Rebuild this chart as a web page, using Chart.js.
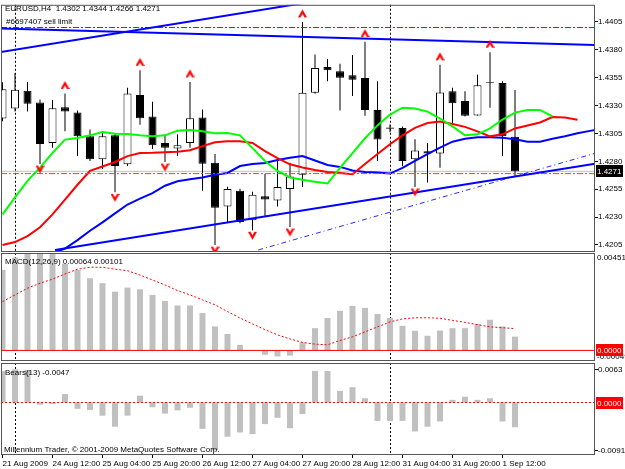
<!DOCTYPE html>
<html>
<head>
<meta charset="utf-8">
<script src="https://cdn.jsdelivr.net/npm/chart.js@4.4.1/dist/chart.umd.min.js"></script>
<style>
  html, body { margin: 0; padding: 0; background: #fff; }
  #wrap { position: relative; width: 625px; height: 469px; overflow: hidden; }
  #wrap canvas { position: absolute; left: 0; top: 0; }
</style>
</head>
<body>
<div id="wrap">
  <canvas id="mainChart" width="625" height="469"></canvas>
  <canvas id="macdChart" width="625" height="469"></canvas>
  <canvas id="bearsChart" width="625" height="469"></canvas>
</div>
<script>
// EURUSD H4, 21 Aug 20:00 .. 1 Sep 16:00
const openP  = [1.43184, 1.43273, 1.43432, 1.43328, 1.42965, 1.43284, 1.43237, 1.43024, 1.42818, 1.43033, 1.42773, 1.43394, 1.43202, 1.42965, 1.42915, 1.42965, 1.43193, 1.42788, 1.42395, 1.42537, 1.42271, 1.42486, 1.42448, 1.42552, 1.42679, 1.43414, 1.43645, 1.43607, 1.43571, 1.43547, 1.43261, 1.43104, 1.43098, 1.42818, 1.42891, 1.42871, 1.43429, 1.43341, 1.43211, 1.43509, 1.43503, 1.4302];
const highP  = [1.4351, 1.43592, 1.43512, 1.43355, 1.4335, 1.43408, 1.43255, 1.43086, 1.43069, 1.43051, 1.43459, 1.43616, 1.43335, 1.43042, 1.43042, 1.43512, 1.43264, 1.42865, 1.42572, 1.42554, 1.42528, 1.42687, 1.42832, 1.42788, 1.4405, 1.43757, 1.43718, 1.43674, 1.43754, 1.43873, 1.43518, 1.43131, 1.43113, 1.42998, 1.42965, 1.43665, 1.43459, 1.43429, 1.43577, 1.43778, 1.43518, 1.4344];
const lowP   = [1.4316, 1.43246, 1.43246, 1.42776, 1.42921, 1.43069, 1.42847, 1.42803, 1.42732, 1.42522, 1.42758, 1.43128, 1.4291, 1.42794, 1.42847, 1.42921, 1.42537, 1.42049, 1.42256, 1.42244, 1.42182, 1.423, 1.42395, 1.42211, 1.4257, 1.43405, 1.43518, 1.43255, 1.43385, 1.43208, 1.42803, 1.4306, 1.42758, 1.4257, 1.4261, 1.42743, 1.43142, 1.43202, 1.4321, 1.43281, 1.42847, 1.4266];
const closeP = [1.43447, 1.43441, 1.43317, 1.42956, 1.43275, 1.43246, 1.43024, 1.42818, 1.43024, 1.42758, 1.43408, 1.43187, 1.42945, 1.42921, 1.42945, 1.43187, 1.42779, 1.42383, 1.42552, 1.42256, 1.42501, 1.42457, 1.4257, 1.42663, 1.43414, 1.43636, 1.43616, 1.4355, 1.43532, 1.43261, 1.42995, 1.43091, 1.42803, 1.42898, 1.42871, 1.43417, 1.4332, 1.43208, 1.43483, 1.43503, 1.43024, 1.4271];

// Alligator, values already shifted forward (index = bar where drawn)
const jawLine   = [1.41633, 1.41721, 1.4181, 1.41899, 1.41978, 1.42018, 1.42094, 1.42178, 1.42253, 1.42333, 1.42413, 1.42466, 1.42515, 1.42581, 1.42621, 1.42639, 1.42656, 1.42679, 1.42696, 1.42758, 1.42776, 1.42785, 1.42812, 1.42832, 1.42847, 1.42807, 1.42767, 1.4275, 1.42718, 1.42705, 1.42699, 1.4269, 1.42741, 1.42803, 1.42865, 1.42922, 1.42976, 1.43002, 1.43015, 1.43015, 1.43011, 1.42998, 1.42976, 1.42976, 1.43002, 1.43024, 1.43051, 1.43073, 1.43095, 1.43117];
const teethLine = [1.42049, 1.42076, 1.42129, 1.42209, 1.42324, 1.42457, 1.4259, 1.42714, 1.42754, 1.42794, 1.42847, 1.42874, 1.42876, 1.42882, 1.42885, 1.429, 1.42936, 1.42971, 1.4298, 1.4298, 1.42965, 1.42891, 1.42829, 1.42773, 1.42745, 1.42723, 1.42705, 1.42696, 1.42685, 1.42776, 1.42865, 1.42953, 1.43033, 1.431, 1.43144, 1.43157, 1.43135, 1.43109, 1.43069, 1.43024, 1.43042, 1.43095, 1.43122, 1.43148, 1.43197, 1.43193, 1.43172];
const lipsLine  = [1.42324, 1.42477, 1.42625, 1.42743, 1.42876, 1.42995, 1.43009, 1.43033, 1.43062, 1.43048, 1.43045, 1.43033, 1.43024, 1.43033, 1.43075, 1.4308, 1.43069, 1.43051, 1.43054, 1.43033, 1.42918, 1.42803, 1.42714, 1.42655, 1.42634, 1.42617, 1.42601, 1.42741, 1.42874, 1.43007, 1.43122, 1.43219, 1.43281, 1.43273, 1.43246, 1.43184, 1.43113, 1.43033, 1.43042, 1.43095, 1.43175, 1.43237, 1.43261, 1.43261, 1.43202];

// Fractals (bar index)
const fractalUp   = [5, 11, 15, 24, 29, 35, 39];
const fractalDown = [3, 9, 13, 17, 20, 23, 33];

// MACD(12,26,9) and Bears(13)
const macdHist   = [0.00373, 0.0043, 0.00451, 0.00451, 0.00447, 0.004, 0.00373, 0.00334, 0.00311, 0.00272, 0.00291, 0.00283, 0.00257, 0.00229, 0.00208, 0.00208, 0.00173, 0.00111, 0.00076, 0.00025, -0.00002, -0.0002, -0.00028, -0.00024, 0.00037, 0.00103, 0.0015, 0.00183, 0.00206, 0.00197, 0.00169, 0.0015, 0.00114, 0.00091, 0.00068, 0.00092, 0.00103, 0.00103, 0.00123, 0.00142, 0.00111, 0.00064];
const macdSignal = [0.00226, 0.00257, 0.00288, 0.00311, 0.0033, 0.00354, 0.00376, 0.00385, 0.00385, 0.00376, 0.00369, 0.00349, 0.00326, 0.00303, 0.00277, 0.00257, 0.00234, 0.00211, 0.0018, 0.0015, 0.00123, 0.00096, 0.00072, 0.00053, 0.00037, 0.00029, 0.00026, 0.00046, 0.00063, 0.00086, 0.00109, 0.00132, 0.00146, 0.00151, 0.00151, 0.00149, 0.00139, 0.0013, 0.00119, 0.00109, 0.00105, 0.00101];
const bearsPower = [0.006, 0.0063, 0.0062, -0.0004, -0.0003, 0.0016, -0.0012, -0.0014, -0.0025, -0.0046, -0.0025, 0.0013, -0.0009, -0.0021, -0.0015, -0.001, -0.005, -0.0091, -0.0065, -0.0057, -0.006, -0.0041, -0.0029, -0.0049, -0.0022, 0.006, 0.006, 0.0022, 0.0029, 0.0008, -0.0035, -0.0035, -0.0035, -0.0055, -0.0046, -0.0036, 0.0005, 0.0011, 0.0005, 0.0008, -0.0036, -0.0047];

// Axis labels
const priceTicks = [1.4405, 1.4380, 1.4355, 1.4330, 1.4305, 1.4280, 1.4255, 1.4230, 1.4205];
const macdTicks  = [0.00451, -0.00049];
const bearsTicks = [0.0063, -0.0091];
const timeTickBars   = [0, 4, 8, 12, 16, 20, 24, 28, 32, 36, 40];
const timeTickLabels = ['21 Aug 2009', '24 Aug 12:00', '25 Aug 04:00', '25 Aug 20:00', '26 Aug 12:00', '27 Aug 04:00', '27 Aug 20:00', '28 Aug 12:00', '31 Aug 04:00', '31 Aug 20:00', '1 Sep 12:00'];
const separatorBars  = [1, 31];

// Objects drawn on the chart: [bar, price] start / end
const trendUp    = [[-0.2, 1.43778], [30, 1.44326]];
const trendTop   = [[-0.2, 1.43991], [47.4, 1.43844]];
const trendLow   = [[4.2, 1.42005], [47.4, 1.42779]];
const trendDash  = [[20.46, 1.42005], [47.4, 1.42872]];
const sellLimit  = 1.4400;
const stopLevel  = 1.4269;

const X_MIN = -0.12, X_MAX = 47.4;
const FONT = '"Liberation Sans", Arial, sans-serif';
const FONT_SIZE = 8;
const FONT_CSS = FONT_SIZE + 'px ' + FONT;

Chart.defaults.font.family = FONT;
Chart.defaults.font.size = FONT_SIZE;
Chart.defaults.color = '#000';
Chart.defaults.animation = false;
Chart.defaults.plugins.legend.display = false;
Chart.defaults.plugins.tooltip.enabled = false;

const bars = openP.map((_, i) => i);
const pts = arr => arr.map((v, j) => ({x: j, y: v}));
const seg = s => s.map(p => ({x: p[0], y: p[1]}));
const hline = v => [{x: X_MIN, y: v}, {x: X_MAX, y: v}];

function lineSet(data, color, width, dash, order) {
  return {type: 'line', data, borderColor: color, borderWidth: width, borderDash: dash || [],
    pointRadius: 0, tension: 0, clip: 0, order};
}

function arrowImg(up) {
  const c = document.createElement('canvas');
  c.width = 9; c.height = 27;
  const g = c.getContext('2d');
  g.fillStyle = '#ff0000';
  g.beginPath();
  if (up) {
    const t = 1;
    g.moveTo(4.5, t); g.lineTo(9, t + 8); g.lineTo(6.5, t + 8); g.lineTo(4.5, t + 4.5);
    g.lineTo(2.5, t + 8); g.lineTo(0, t + 8);
  } else {
    const b = 23;
    g.moveTo(4.5, b); g.lineTo(9, b - 8); g.lineTo(6.5, b - 8); g.lineTo(4.5, b - 4.5);
    g.lineTo(2.5, b - 8); g.lineTo(0, b - 8);
  }
  g.closePath();
  g.fill();
  return c;
}

function timeAxis(show) {
  const ax = {
    type: 'linear', min: X_MIN, max: X_MAX, display: show, position: 'bottom',
    bounds: 'data', offset: false,
    afterBuildTicks: s => { s.ticks = timeTickBars.map(v => ({value: v})); },
    grid: {drawOnChartArea: false, tickLength: 3, color: '#000', offset: false},
    border: {display: false},
    ticks: {autoSkip: false, maxRotation: 0, minRotation: 0, align: 'start', padding: 1,
      color: '#000', callback: (v, i) => timeTickLabels[i]}
  };
  if (show) ax.afterFit = s => { s.height = 14; };
  return ax;
}

function rightAxis(min, max, tickVals, digits, showLabels) {
  return {
    type: 'linear', position: 'right', min, max,
    afterFit: s => { s.width = 30; },
    afterBuildTicks: s => { s.ticks = tickVals.map(v => ({value: v})); },
    grid: {drawOnChartArea: false, drawTicks: showLabels, tickLength: 3, color: '#000'},
    border: {display: false},
    ticks: {display: showLabels, padding: 0, color: '#000', callback: v => v.toFixed(digits)}
  };
}

function valueBox(ctx, y, text, bg) {
  const yy = Math.round(y);
  ctx.fillStyle = bg;
  ctx.fillRect(596, yy - 6, 27, 12);
  ctx.fillStyle = '#fff';
  ctx.textBaseline = 'middle';
  ctx.fillText(text, 597, yy + 0.5);
}

// Frame, period separators and texts of one panel
function panelPlugin(draw) {
  return {
    id: 'panelDeco',
    beforeDatasetsDraw(chart) {
      const {ctx, chartArea: a} = chart;
      const x = chart.scales.x;
      ctx.save();
      ctx.strokeStyle = '#000';
      ctx.lineWidth = 1;
      ctx.setLineDash([2, 2]);
      separatorBars.forEach(b => {
        const px = Math.round(x.getPixelForValue(b)) + 0.5;
        ctx.beginPath(); ctx.moveTo(px, a.top); ctx.lineTo(px, a.bottom); ctx.stroke();
      });
      ctx.restore();
    },
    afterDraw(chart) {
      const {ctx, chartArea: a} = chart;
      ctx.save();
      ctx.strokeStyle = '#555';
      ctx.lineWidth = 1;
      ctx.strokeRect(a.left + 0.5, a.top + 0.5, a.right - a.left - 1, a.bottom - a.top - 1);
      ctx.font = FONT_CSS;
      ctx.fillStyle = '#000';
      ctx.textBaseline = 'alphabetic';
      draw(ctx, a, chart.scales.y);
      ctx.restore();
    }
  };
}

const last = bars.length - 1;

// Main price panel
new Chart(document.getElementById('mainChart'), {
  type: 'bar',
  data: {
    datasets: [
      lineSet(hline(closeP[last]), '#c0c0c0', 1, null, 12),
      {type: 'bar', data: bars.map(i => ({x: i, y: [lowP[i], highP[i]]})), backgroundColor: '#000',
        barThickness: 1, grouped: false, inflateAmount: 0, order: 11},
      {type: 'bar', data: bars.map(i => ({x: i, y: [openP[i], closeP[i]]})),
        backgroundColor: c => closeP[c.dataIndex] > openP[c.dataIndex] ? '#fff' : '#000',
        borderColor: '#000', borderWidth: 1, borderSkipped: false,
        barThickness: 8, grouped: false, inflateAmount: 0, order: 10},
      lineSet(pts(jawLine), '#0000ff', 2, null, 8),
      lineSet(pts(teethLine), '#ff0000', 2, null, 7),
      lineSet(pts(lipsLine), '#00ff00', 2, null, 6),
      lineSet(hline(sellLimit), '#008000', 1, [6, 2, 2, 2], 5),
      lineSet(hline(stopLevel), '#ff4500', 1, [6, 2, 2, 2], 5),
      lineSet(seg(trendUp), '#0000ff', 2, null, 4),
      lineSet(seg(trendTop), '#0000ff', 2, null, 4),
      lineSet(seg(trendLow), '#0000ff', 2, null, 4),
      lineSet(seg(trendDash), '#2a2aff', 1, [5, 3, 1, 3], 4),
      {type: 'line', showLine: false, data: fractalUp.map(i => ({x: i, y: highP[i]})),
        pointStyle: arrowImg(true), pointRadius: 4, order: 1},
      {type: 'line', showLine: false, data: fractalDown.map(i => ({x: i, y: lowP[i]})),
        pointStyle: arrowImg(false), pointRadius: 4, order: 1}
    ]
  },
  options: {
    responsive: false,
    devicePixelRatio: 1,
    events: [],
    layout: {autoPadding: false, padding: {left: 1, top: 2, right: 0, bottom: 217}},
    scales: {
      x: timeAxis(false),
      y: rightAxis(1.419871, 1.442034, priceTicks, 4, true)
    }
  },
  plugins: [panelPlugin((ctx, a, y) => {
    ctx.fillText('EURUSD,H4  ' + [openP[last], highP[last], lowP[last], closeP[last]].map(v => v.toFixed(4)).join(' '), 5, 11);
    ctx.fillText('#6697407 sell limit', 6, 23.5);
    valueBox(ctx, y.getPixelForValue(closeP[last]), closeP[last].toFixed(4), '#000');
  })]
});

// MACD panel
new Chart(document.getElementById('macdChart'), {
  type: 'bar',
  data: {
    datasets: [
      {type: 'bar', data: pts(macdHist), backgroundColor: '#c0c0c0', barThickness: 6,
        grouped: false, inflateAmount: 0, order: 5},
      lineSet(hline(0), '#ff0000', 1, null, 4),
      lineSet(pts(macdSignal), '#ff0000', 1, [2, 2], 2)
    ]
  },
  options: {
    responsive: false,
    devicePixelRatio: 1,
    events: [],
    layout: {autoPadding: false, padding: {left: 1, top: 253, right: 0, bottom: 108}},
    scales: {
      x: timeAxis(false),
      y: rightAxis(-0.00049, 0.00451, macdTicks, 5, false)
    }
  },
  plugins: [panelPlugin((ctx, a, y) => {
    ctx.fillText('MACD(12,26,9) ' + macdHist[last].toFixed(5) + ' ' + macdSignal[last].toFixed(5), 5, 263.5);
    ctx.textBaseline = 'middle';
    ctx.fillText(macdTicks[0].toFixed(5), 597, Math.max(y.getPixelForValue(macdTicks[0]), a.top + 5));
    ctx.fillText(macdTicks[1].toFixed(5), 597, Math.min(y.getPixelForValue(macdTicks[1]), a.bottom - 4));
    valueBox(ctx, y.getPixelForValue(0), '0.0000', '#ff0000');
  })]
});

// Bears Power panel
new Chart(document.getElementById('bearsChart'), {
  type: 'bar',
  data: {
    datasets: [
      {type: 'bar', data: pts(bearsPower), backgroundColor: '#c0c0c0', barThickness: 6,
        grouped: false, inflateAmount: 0, order: 5},
      lineSet(hline(0), '#ff0000', 1, [2, 2], 2)
    ]
  },
  options: {
    responsive: false,
    devicePixelRatio: 1,
    events: [],
    layout: {autoPadding: false, padding: {left: 1, top: 363, right: 0, bottom: 0}},
    scales: {
      x: timeAxis(true),
      y: rightAxis(-0.009975, 0.007505, bearsTicks, 4, true)
    }
  },
  plugins: [panelPlugin((ctx, a, y) => {
    ctx.fillText('Bears(13) ' + bearsPower[last].toFixed(4), 5, 375);
    ctx.fillText('Millennium Trader, \u00a9 2001-2009 MetaQuotes Software Corp.', 4, 452);
    valueBox(ctx, y.getPixelForValue(0), '0.0000', '#ff0000');
  })]
});
</script>
</body>
</html>
